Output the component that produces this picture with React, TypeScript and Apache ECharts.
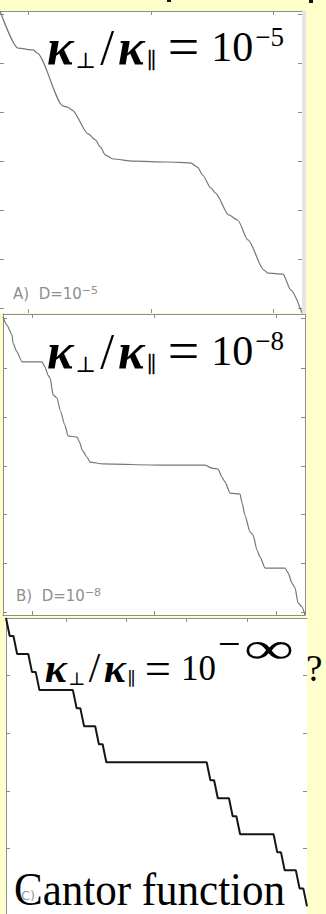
import React, { useEffect, useRef } from 'react';
import * as echarts from 'echarts';

// Panel A: smoothed staircase, kappa ratio 1e-5 (fractions of the panel box)
const aX = [0, 0.06, 0.11, 0.123, 0.209, 0.223, 0.239, 0.292, 0.316, 0.332, 0.349, 0.375, 0.442, 0.555, 0.631, 0.654, 0.671, 0.698, 0.714, 0.757, 0.787, 0.821, 0.874, 0.887, 0.937, 0.963, 1];
const aY = [1, 0.877, 0.871, 0.861, 0.685, 0.682, 0.672, 0.593, 0.573, 0.55, 0.523, 0.51, 0.503, 0.5, 0.497, 0.483, 0.457, 0.414, 0.397, 0.325, 0.308, 0.242, 0.142, 0.132, 0.129, 0.076, 0];

// Panel B: sharper staircase, kappa ratio 1e-8
const bX = [0, 0.013, 0.03, 0.033, 0.046, 0.063, 0.129, 0.139, 0.149, 0.156, 0.166, 0.179, 0.189, 0.205, 0.215, 0.245, 0.255, 0.262, 0.278, 0.288, 0.331, 0.52, 0.669, 0.692, 0.712, 0.725, 0.735, 0.752, 0.785, 0.791, 0.801, 0.818, 0.828, 0.841, 0.851, 0.868, 0.934, 0.944, 0.957, 0.967, 0.977, 0.99, 1];
const bY = [0.99, 0.963, 0.93, 0.904, 0.874, 0.841, 0.841, 0.824, 0.797, 0.787, 0.731, 0.721, 0.681, 0.631, 0.595, 0.591, 0.571, 0.548, 0.525, 0.508, 0.502, 0.498, 0.498, 0.488, 0.485, 0.458, 0.442, 0.405, 0.402, 0.375, 0.332, 0.276, 0.266, 0.216, 0.193, 0.156, 0.156, 0.14, 0.106, 0.09, 0.04, 0.027, 0];

// Panel C: plateaus of the (decreasing) Cantor function
const cStart = [0.0123, 0.037, 0.0864, 0.1111, 0.2346, 0.2593, 0.3086, 0.3333, 0.679, 0.7037, 0.7531, 0.7778, 0.9012, 0.9259, 0.9753];
const cEnd = [0.0247, 0.0741, 0.0988, 0.2222, 0.2469, 0.2963, 0.321, 0.6667, 0.6914, 0.7407, 0.7654, 0.8889, 0.9136, 0.963, 0.9877];
const cLevel = [0.9375, 0.875, 0.8125, 0.75, 0.6875, 0.625, 0.5625, 0.5, 0.4375, 0.375, 0.3125, 0.25, 0.1875, 0.125, 0.0625];

// Tick positions (fractions of each panel)
const aTicksX = [0.093, 0.5, 0.904];
const aTicksY = [0.017, 0.179, 0.341, 0.503, 0.666, 0.828, 0.99];
const bTicksX = [0.096, 0.5, 0.904];
const bTicksY = [0.01, 0.173, 0.336, 0.495, 0.658, 0.821, 0.987];
const cTicks = [0.2, 0.4, 0.6, 0.8];
// Panel C runs below the page edge: its y = 0 lies 8px under the bottom
const cMinY = -0.0263;

const exponents = ['−5', '−8'];
const panelTags = ['A)  D=10', 'B)  D=10'];
const tagExponents = ['−5', '−8'];

const BORDER = '#8c8c8c';
const SERIF = '"Liberation Serif", "DejaVu Serif", serif';
const SANS = '"DejaVu Sans", sans-serif';

function axis(grid: number, position: string, ticks: number[], line: boolean, min = 0, tickShow = true) {
  return {
    type: 'value', gridIndex: grid, position, min, max: 1,
    axisLine: { show: line, onZero: false, lineStyle: { color: BORDER, width: 1 } },
    axisTick: { show: tickShow, inside: true, length: 4, customValues: ticks, lineStyle: { color: BORDER } },
    axisLabel: { show: false }, splitLine: { show: false },
  };
}

function formula(x: number, y: number, scale: number, exp: string) {
  const LH = 48;
  const tok = (o: object) => ({ fontFamily: SERIF, fill: '#000', lineHeight: LH, ...o });
  return {
    type: 'text', x, y, z: 20, scaleX: scale, scaleY: scale,
    style: {
      text: `{k|κ}{s|⊥}{d|/}{k|κ}{s|∥}{e|=}{m|10}` + (exp ? `{p|${exp}}` : ''),
      align: 'left', verticalAlign: 'middle', fill: '#000',
      rich: {
        k: tok({ fontSize: 50, fontStyle: 'italic', fontWeight: 'bold', padding: [0, 2, 0, 2] }),
        s: tok({ fontSize: 22, lineHeight: 27, verticalAlign: 'bottom', padding: [0, 2, 0, 0] }),
        d: tok({ fontSize: 50, padding: [0, 2, 0, 2] }),
        e: tok({ fontSize: 56, padding: [0, 12, 0, 9] }),
        m: tok({ fontSize: 42 }),
        p: tok({ fontSize: 27, lineHeight: 34, verticalAlign: 'top', padding: [0, 0, 0, 2] }),
      },
    },
  };
}

function serifText(text: string, x: number, y: number, size: number, extra: object = {}, family = SERIF) {
  return {
    type: 'text', x, y, z: 20, ...extra,
    style: { text, font: `${size}px ${family}`, fill: '#000', verticalAlign: 'middle', align: 'left' },
  };
}

function tag(x: number, y: number, label: string, exp: string) {
  return {
    type: 'text', x, y, z: 20,
    style: {
      text: `{a|${label}}{e|${exp}}`,
      align: 'left', verticalAlign: 'middle',
      rich: {
        a: { fontFamily: SANS, fontSize: 15, lineHeight: 18, fill: '#8f8f8f' },
        e: { fontFamily: SANS, fontSize: 11, lineHeight: 12, verticalAlign: 'top', fill: '#8f8f8f' },
      },
    },
  };
}

export default function App() {
  const ref = useRef<HTMLDivElement>(null);
  useEffect(() => {
    if (!ref.current) return;
    const chart = echarts.init(ref.current, undefined, { renderer: 'svg' });

    const cantor: number[][] = [[0, 1]];
    cStart.forEach((s, i) => {
      cantor.push([s, cLevel[i]]);
      cantor.push([cEnd[i], cLevel[i]]);
    });
    cantor.push([1, 0]);

    const gridBase = { show: true, backgroundColor: '#ffffff', borderWidth: 0, containLabel: false };
    chart.setOption({
      animation: false,
      backgroundColor: '#ffffcc',
      grid: [
        { ...gridBase, left: 0, top: 11, width: 302, height: 302 },
        { ...gridBase, left: 3, top: 314, width: 302, height: 301 },
        { ...gridBase, left: 6, top: 618, width: 301, bottom: 0 },
      ],
      xAxis: [
        axis(0, 'bottom', aTicksX, false), axis(0, 'top', aTicksX, true),
        axis(1, 'bottom', bTicksX, true), axis(1, 'top', bTicksX, true),
        axis(2, 'bottom', cTicks, false, 0, false), axis(2, 'top', cTicks, true),
      ],
      yAxis: [
        axis(0, 'left', aTicksY, false), axis(0, 'right', aTicksY, true),
        axis(1, 'left', bTicksY, true), axis(1, 'right', bTicksY, true),
        axis(2, 'left', cTicks, true, cMinY), axis(2, 'right', cTicks, false, cMinY),
      ],
      series: [
        {
          type: 'line', xAxisIndex: 0, yAxisIndex: 0, showSymbol: false, silent: true,
          smooth: 0.25, smoothMonotone: 'x',
          data: aX.map((x, i) => [x, aY[i]]),
          lineStyle: { color: '#767676', width: 1.2 },
        },
        {
          type: 'line', xAxisIndex: 2, yAxisIndex: 2, showSymbol: false, silent: true,
          smooth: 0.2, smoothMonotone: 'x',
          data: bX.map((x, i) => [x, bY[i]]),
          lineStyle: { color: '#767676', width: 1.2 },
        },
        {
          type: 'line', xAxisIndex: 4, yAxisIndex: 4, showSymbol: false, silent: true,
          data: cantor,
          lineStyle: { color: '#151515', width: 2 },
        },
      ],
      graphic: [
        { type: 'rect', shape: { x: 302, y: 11, width: 4, height: 302 }, style: { fill: '#e4e4e4' }, z: 5 },
        { type: 'rect', shape: { x: 167, y: 0, width: 4, height: 2 }, style: { fill: '#111' }, z: 5 },
        { type: 'rect', shape: { x: 309, y: 0, width: 4, height: 3 }, style: { fill: '#111' }, z: 5 },
        formula(45, 47, 1, exponents[0]),
        formula(45, 351, 1, exponents[1]),
        formula(43, 668, 0.83, ''),
        serifText('−', 218, 643, 40),
        serifText('∞', 244, 648, 44, { scaleX: 1.6 }),
        serifText('?', 306, 668, 37),
        tag(13, 294, panelTags[0], tagExponents[0]),
        tag(16, 596, panelTags[1], tagExponents[1]),
        {
          type: 'text', x: 21, y: 895, z: 19,
          style: { text: 'C)', font: `13px ${SANS}`, fill: '#9a9a9a', verticalAlign: 'middle' },
        },
        {
          type: 'text', x: 14, y: 889, z: 20, scaleY: 1.08,
          style: { text: 'Cantor function', font: `43px ${SERIF}`, fill: '#000', verticalAlign: 'middle' },
        },
      ],
    });
    return () => chart.dispose();
  }, []);
  return <div ref={ref} style={{ position: 'fixed', left: 0, top: 0, width: 326, height: 914 }} />;
}
